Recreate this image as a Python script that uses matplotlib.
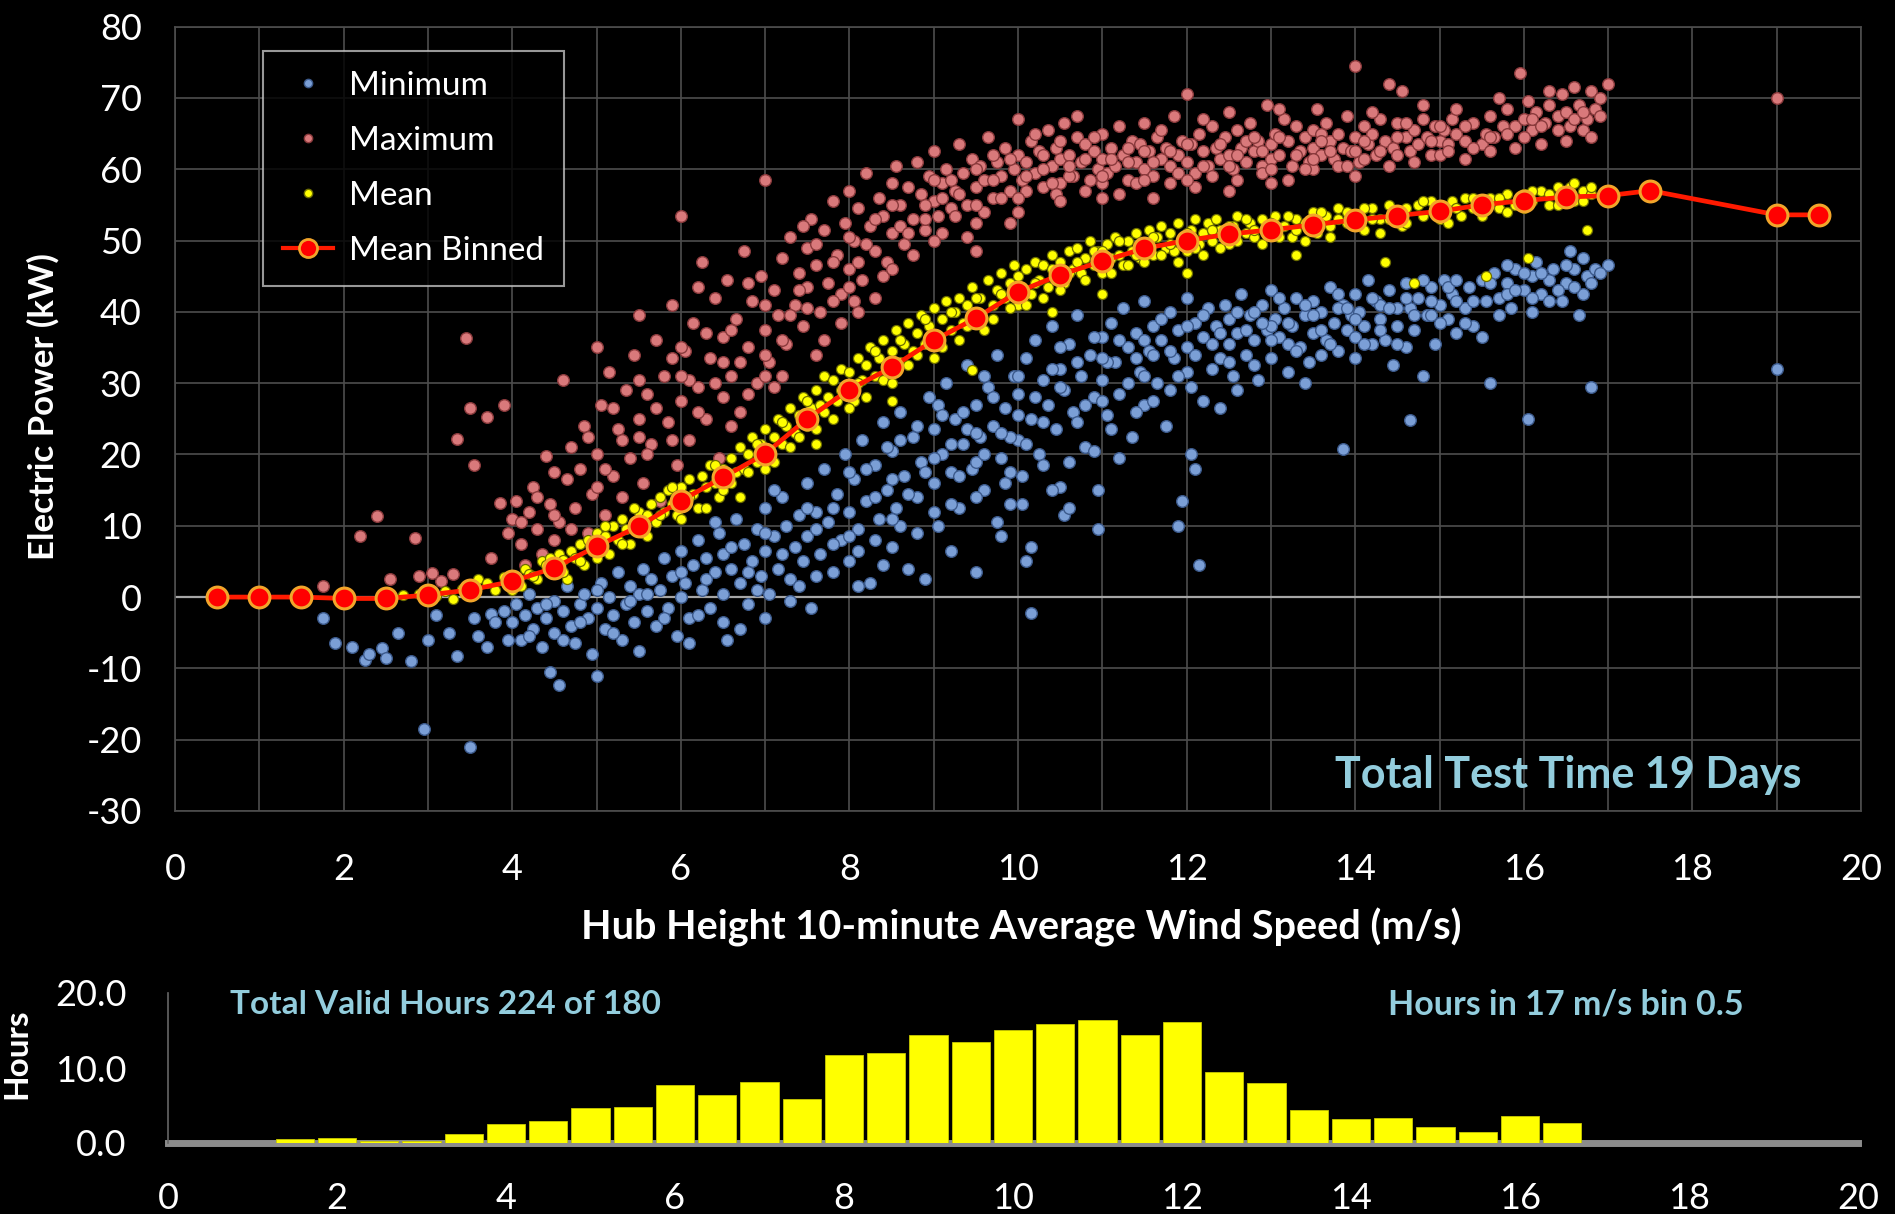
import numpy as np
import matplotlib
matplotlib.use("Agg")
import matplotlib.pyplot as plt
from matplotlib.lines import Line2D

plt.rcParams['font.family'] = ['Lato', 'DejaVu Sans']

# ---------------- data ----------------
bin_x = [0.5, 1.0, 1.5, 2.0, 2.5, 3.0, 3.5, 4.0, 4.5, 5.0, 5.5, 6.0, 6.5, 7.0, 7.5, 8.0, 8.5,
         9.0, 9.5, 10.0, 10.5, 11.0, 11.5, 12.0, 12.5, 13.0, 13.5, 14.0, 14.5, 15.0, 15.5,
         16.0, 16.5, 17.0, 17.5, 19.0, 19.5]
bin_y = [0.0, 0.0, 0.0, -0.2, -0.2, 0.3, 1.0, 2.2, 4.1, 7.1, 9.9, 13.5, 16.8, 20.1, 25.0, 29.1,
         32.2, 36.0, 39.1, 42.8, 45.2, 47.1, 48.9, 50.0, 50.9, 51.5, 52.2, 52.9, 53.5, 54.1,
         55.0, 55.6, 56.1, 56.3, 57.0, 53.6, 53.6]

hist_x = [1.5, 2.0, 2.5, 3.0, 3.5, 4.0, 4.5, 5.0, 5.5, 6.0, 6.5, 7.0, 7.5, 8.0, 8.5, 9.0,
          9.5, 10.0, 10.5, 11.0, 11.5, 12.0, 12.5, 13.0, 13.5, 14.0, 14.5, 15.0, 15.5, 16.0, 16.5]
hist_h = [0.5, 0.7, 0.3, 0.3, 1.2, 2.5, 3.0, 4.7, 4.8, 7.7, 6.4, 8.2, 5.9, 11.8, 12.0, 14.4,
          13.5, 15.1, 15.9, 16.4, 14.4, 16.2, 9.5, 8.0, 4.4, 3.2, 3.4, 2.2, 1.5, 3.6, 2.7]

max_pts = [
    (1.75, 1.5), (2.2, 8.5), (2.4, 11.3), (2.55, 2.5), (2.85, 8.3), (2.9, 3.0), (3.05, 3.4),
    (3.15, 2.2), (3.3, 3.2), (3.35, 22.2), (3.45, 36.4), (3.5, 26.5), (3.55, 18.5), (3.7, 25.3),
    (3.75, 5.5), (3.85, 13.2), (3.9, 27.0), (3.95, 9.0), (4.0, 11.0), (4.05, 13.5), (4.1, 7.5),
    (4.15, 4.5), (4.2, 12.0), (4.25, 15.5), (4.3, 9.5), (4.35, 6.0), (4.4, 19.8), (4.45, 13.0),
    (4.5, 8.0), (4.55, 10.5), (4.6, 30.5), (4.65, 16.5), (4.7, 21.0), (4.75, 12.5), (4.8, 18.0),
    (4.85, 24.0), (4.9, 9.0), (4.95, 14.5), (5.0, 35.0), (5.0, 20.0), (5.05, 27.0), (5.1, 11.5),
    (5.15, 31.5), (5.2, 17.0), (5.25, 23.5), (5.3, 14.0), (5.35, 29.0), (5.4, 19.5), (5.45, 34.0),
    (5.5, 25.0), (5.5, 39.5), (5.55, 16.0), (5.6, 28.5), (5.65, 21.5), (5.7, 36.0), (5.75, 13.5),
    (5.8, 31.0), (5.85, 24.5), (5.9, 41.0), (5.95, 18.5), (6.0, 27.5), (6.0, 53.5), (6.05, 34.5),
    (6.1, 22.0), (6.15, 38.5), (6.2, 29.5), (6.25, 47.0), (6.3, 25.0), (6.35, 33.5), (6.4, 42.0),
    (6.45, 19.5), (6.5, 36.5), (6.5, 28.0), (6.55, 44.5), (6.6, 31.0), (6.65, 39.0), (6.7, 26.0),
    (6.75, 48.5), (6.8, 35.0), (6.85, 41.5), (6.9, 30.0), (6.95, 45.0), (7.0, 37.5), (7.0, 58.5),
    (7.05, 33.0), (7.1, 43.0), (7.15, 39.5), (7.2, 47.5), (7.25, 35.5), (7.3, 50.5), (7.35, 41.0),
    (7.4, 45.5), (7.45, 38.0), (7.5, 49.0), (7.5, 43.5), (7.55, 53.0), (7.6, 46.5), (7.65, 40.0),
    (7.7, 51.5), (7.75, 44.0), (7.8, 55.5), (7.85, 48.0), (7.9, 42.5), (7.95, 52.5), (8.0, 46.0),
    (8.0, 57.0), (8.05, 50.0), (8.1, 54.5), (8.15, 44.5), (8.2, 59.5), (8.25, 52.0), (8.3, 48.5),
    (8.35, 56.0), (8.4, 53.5), (8.45, 47.0), (8.5, 58.0), (8.5, 51.0), (8.55, 60.5), (8.6, 55.0),
    (8.65, 49.5), (8.7, 57.5), (8.75, 53.0), (8.8, 61.0), (8.85, 56.5), (8.9, 51.5), (8.95, 59.0),
    (9.0, 55.5), (9.0, 62.5), (9.05, 53.5), (9.1, 58.0), (9.15, 60.0), (9.2, 54.5), (9.25, 57.0),
    (9.3, 63.5), (9.35, 59.5), (9.4, 55.0), (9.45, 61.5), (9.5, 57.5), (9.5, 52.5), (9.55, 60.5),
    (9.6, 58.5), (9.65, 64.5), (9.7, 56.0), (9.75, 61.0), (9.8, 59.0), (9.85, 63.0), (9.9, 57.0),
    (9.95, 60.0), (10.0, 62.0), (10.0, 67.0), (10.05, 58.5), (10.1, 61.0), (10.15, 64.0),
    (10.2, 59.5), (10.25, 62.5), (10.3, 57.5), (10.35, 65.5), (10.4, 60.5), (10.45, 63.0),
    (10.5, 61.5), (10.5, 58.0), (10.55, 66.5), (10.6, 62.0), (10.65, 59.0), (10.7, 64.5),
    (10.75, 61.0), (10.8, 63.5), (10.85, 58.5), (10.9, 62.5), (10.95, 60.0), (11.0, 65.0),
    (11.0, 61.5), (11.05, 59.5), (11.1, 63.0), (11.15, 60.5), (11.2, 66.0), (11.25, 62.0),
    (11.3, 58.5), (11.35, 64.0), (11.4, 61.0), (11.45, 63.5), (11.5, 60.0), (11.5, 66.5),
    (11.55, 62.5), (11.6, 59.0), (11.65, 64.5), (11.7, 61.5), (11.75, 63.0), (11.8, 60.5),
    (11.85, 67.5), (11.9, 62.0), (11.95, 64.0), (12.0, 61.0), (12.0, 70.5), (12.05, 63.5),
    (12.1, 59.5), (12.15, 65.0), (12.2, 62.5), (12.25, 60.5), (12.3, 66.0), (12.35, 63.0),
    (12.4, 61.5), (12.45, 64.5), (12.5, 62.0), (12.5, 68.0), (12.55, 60.0), (12.6, 65.5),
    (12.65, 63.0), (12.7, 61.0), (12.75, 66.5), (12.8, 62.5), (12.85, 64.0), (12.9, 60.5),
    (12.95, 69.0), (13.0, 63.5), (13.0, 61.5), (13.05, 65.0), (13.1, 62.0), (13.15, 67.0),
    (13.2, 64.0), (13.25, 60.5), (13.3, 66.0), (13.35, 62.5), (13.4, 64.5), (13.45, 61.0),
    (13.5, 65.5), (13.5, 63.0), (13.55, 68.5), (13.6, 62.0), (13.65, 66.5), (13.7, 64.0),
    (13.75, 61.5), (13.8, 65.0), (13.85, 63.0), (13.9, 67.5), (13.95, 62.5), (14.0, 74.5),
    (14.0, 64.5), (14.05, 61.0), (14.1, 66.0), (14.15, 63.5), (14.2, 65.0), (14.25, 62.0),
    (14.3, 67.0), (14.35, 64.0), (14.4, 72.0), (14.45, 63.0), (14.5, 66.5), (14.55, 71.0),
    (14.6, 64.5), (14.65, 62.5), (14.7, 65.5), (14.75, 63.5), (14.8, 67.0), (14.85, 64.5),
    (14.9, 62.0), (14.95, 66.0), (15.0, 64.0), (15.05, 65.5), (15.1, 63.5), (15.15, 67.0),
    (15.2, 65.0), (15.3, 64.0), (15.4, 66.5), (15.5, 63.5), (15.55, 65.0), (15.6, 67.5),
    (15.65, 64.5), (15.75, 66.0), (15.8, 68.5), (15.9, 66.0), (15.95, 73.5), (16.0, 67.0),
    (16.05, 69.5), (16.1, 65.5), (16.15, 68.0), (16.25, 66.5), (16.3, 69.0), (16.4, 67.5),
    (16.45, 70.5), (16.5, 68.0), (16.55, 66.0), (16.6, 71.5), (16.65, 69.0), (16.7, 65.5),
    (16.75, 67.0), (16.8, 71.0), (16.85, 68.5), (17.0, 72.0), (19.0, 70.0),
    (6.1, 30.5), (6.3, 37.0), (6.6, 24.0), (6.8, 44.0), (7.1, 29.5), (7.3, 39.5), (7.6, 34.0),
    (7.8, 47.0), (8.05, 41.5), (8.2, 49.5), (8.4, 45.0), (8.6, 52.0), (8.75, 48.0), (8.9, 55.0),
    (9.1, 51.0), (9.25, 53.5), (9.4, 50.5), (9.6, 54.0), (9.8, 56.0), (9.9, 52.5), (10.1, 57.0),
    (10.3, 60.0), (10.45, 56.5), (10.6, 59.0), (10.8, 57.0), (11.0, 58.0), (11.2, 56.5),
    (11.4, 58.0), (11.6, 56.0), (11.8, 58.0), (12.1, 57.5), (12.3, 59.0), (12.6, 58.5),
    (12.9, 59.5), (13.2, 58.5), (13.5, 60.0), (13.8, 60.5), (14.1, 61.5), (14.4, 60.5),
    (14.7, 61.0), (15.0, 62.0), (15.3, 61.5), (15.6, 62.5), (15.9, 63.0), (16.2, 63.5),
    (16.5, 64.0), (16.8, 64.5), (7.9, 38.5), (8.1, 40.0), (8.3, 42.0), (5.2, 26.5), (5.6, 20.0),
    (5.9, 33.5), (6.2, 43.5), (6.7, 33.0), (7.2, 31.0), (7.45, 52.0), (7.7, 36.0), (9.2, 58.5),
    (9.7, 62.0), (10.2, 65.0), (10.7, 67.5), (11.3, 61.0), (11.7, 65.5), (12.2, 67.0),
    (12.7, 64.0), (13.1, 68.5), (13.6, 65.0), (14.2, 68.0), (14.8, 69.0), (15.2, 68.5),
    (15.7, 70.0), (16.3, 71.0), (16.9, 70.0),
    (4.1, 10.5), (4.3, 14.0), (4.5, 17.5), (4.7, 9.5), (4.9, 22.5), (5.1, 18.0), (5.3, 22.0),
    (5.5, 30.5), (5.7, 26.5), (5.9, 22.0), (6.0, 35.0), (6.2, 26.0), (6.4, 30.0), (6.6, 37.5),
    (6.8, 28.5), (7.0, 41.0), (7.0, 34.0), (7.2, 36.0), (7.4, 43.0), (7.6, 49.5), (7.8, 41.5),
    (8.0, 50.5), (8.1, 47.0), (8.3, 53.0), (8.5, 55.0), (8.5, 46.0), (8.7, 51.0), (8.9, 53.0),
    (9.0, 58.5), (9.1, 56.0), (9.3, 56.5), (9.5, 60.0), (9.5, 55.0), (9.7, 58.5), (9.9, 61.5),
    (10.0, 56.0), (10.1, 59.0), (10.3, 62.0), (10.4, 58.0), (10.5, 64.0), (10.6, 60.5),
    (10.8, 61.5), (10.9, 64.5), (11.0, 59.0), (11.1, 61.5), (11.3, 63.0), (11.5, 58.5),
    (11.5, 62.5), (11.6, 61.0), (11.8, 62.5), (11.9, 59.5), (12.0, 63.5), (12.0, 58.5),
    (12.2, 60.5), (12.4, 63.5), (12.5, 60.5), (12.6, 62.0), (12.8, 64.5), (12.9, 62.5),
    (13.0, 60.0), (13.1, 64.5), (13.3, 62.0), (13.4, 60.0), (13.5, 61.5), (13.6, 64.0),
    (13.7, 62.5), (13.9, 60.5), (14.0, 62.5), (14.1, 64.0), (14.3, 62.5), (14.5, 62.0),
    (14.5, 64.5), (14.6, 66.5), (14.9, 64.0), (15.0, 66.0), (15.1, 62.5), (15.3, 66.0),
    (15.4, 63.0), (15.6, 64.5), (15.8, 65.0), (16.0, 64.5), (16.1, 67.0), (16.2, 66.0),
    (16.4, 65.5), (16.6, 67.0), (16.7, 68.0), (16.9, 67.5), (8.0, 43.5), (7.5, 40.5),
    (7.0, 31.0), (6.5, 33.0), (6.0, 31.0), (5.5, 22.5), (5.0, 15.5), (4.5, 11.5), (9.0, 50.0),
    (9.5, 48.5), (10.0, 54.0), (10.5, 55.5), (11.0, 56.0), (12.5, 57.0), (13.0, 58.0),
    (14.0, 59.0),
]

min_pts = [
    (1.75, -3.0), (1.9, -6.5), (2.1, -7.0), (2.25, -8.8), (2.3, -8.0), (2.45, -7.2), (2.5, -8.5),
    (2.65, -5.0), (2.8, -9.0), (2.95, -18.5), (3.0, -6.0), (3.1, -2.5), (3.25, -5.0), (3.35, -8.2),
    (3.5, -21.0), (3.55, -3.0), (3.6, -5.5), (3.7, -7.0), (3.75, -2.4), (3.8, -3.5), (3.9, -2.0),
    (3.95, -6.0), (4.0, -3.5), (4.05, -1.0), (4.1, -6.0), (4.15, -2.5), (4.2, 0.5), (4.25, -4.5),
    (4.3, -1.5), (4.35, -7.0), (4.4, -3.0), (4.45, -10.5), (4.5, -0.5), (4.5, -5.0), (4.55, -12.3),
    (4.6, -2.0), (4.65, 1.5), (4.7, -4.0), (4.75, -6.5), (4.8, -1.0), (4.85, 0.5), (4.9, -3.0),
    (4.95, -8.0), (5.0, -11.0), (5.0, -1.5), (5.05, 2.0), (5.1, -4.5), (5.15, 0.0), (5.2, -2.5),
    (5.25, 3.5), (5.3, -6.0), (5.35, -1.0), (5.4, 1.5), (5.45, -3.5), (5.5, -7.5), (5.5, 0.5),
    (5.55, 4.0), (5.6, -2.0), (5.65, 2.5), (5.7, -4.0), (5.75, 1.0), (5.8, 5.5), (5.85, -1.5),
    (5.9, 3.0), (5.95, -5.5), (6.0, 0.0), (6.0, 6.5), (6.05, 2.0), (6.1, -3.0), (6.15, 4.5),
    (6.2, 8.0), (6.25, 1.0), (6.3, 5.5), (6.35, -1.5), (6.4, 3.5), (6.45, 9.0), (6.5, 0.5),
    (6.5, 6.0), (6.55, -6.0), (6.6, 4.0), (6.65, 11.0), (6.7, 2.0), (6.75, 7.5), (6.8, -1.0),
    (6.85, 5.0), (6.9, 9.5), (6.95, 3.0), (7.0, 12.5), (7.0, 6.5), (7.05, 0.5), (7.1, 8.5),
    (7.15, 4.0), (7.2, 14.0), (7.25, 10.0), (7.3, 2.5), (7.35, 7.0), (7.4, 11.5), (7.45, 5.0),
    (7.5, 16.0), (7.5, 8.5), (7.55, -1.5), (7.6, 12.0), (7.65, 6.0), (7.7, 18.0), (7.75, 10.5),
    (7.8, 3.5), (7.85, 14.5), (7.9, 8.0), (7.95, 20.0), (8.0, 12.0), (8.0, 5.0), (8.05, 16.5),
    (8.1, 9.5), (8.15, 22.0), (8.2, 13.5), (8.25, 2.0), (8.3, 18.5), (8.35, 11.0), (8.4, 24.5),
    (8.45, 15.0), (8.5, 7.0), (8.5, 20.5), (8.55, 12.5), (8.6, 26.0), (8.65, 17.0), (8.7, 4.0),
    (8.75, 22.5), (8.8, 14.0), (8.85, 19.0), (8.9, 2.5), (8.95, 28.0), (9.0, 16.0), (9.0, 23.5),
    (9.05, 10.0), (9.1, 20.0), (9.15, 30.0), (9.2, 17.5), (9.25, 25.0), (9.3, 12.5), (9.35, 21.5),
    (9.4, 32.5), (9.45, 18.0), (9.5, 27.0), (9.5, 3.5), (9.55, 22.5), (9.6, 15.0), (9.65, 29.5),
    (9.7, 24.0), (9.75, 34.0), (9.8, 19.5), (9.85, 26.5), (9.9, 13.0), (9.95, 31.0), (10.0, 22.0),
    (10.15, -2.2), (10.0, 28.5), (10.05, 17.0), (10.1, 33.5), (10.15, 25.0), (10.2, 36.0),
    (10.25, 20.0), (10.3, 30.5), (10.35, 27.0), (10.4, 38.0), (10.45, 23.5), (10.5, 32.0),
    (10.5, 15.5), (10.55, 29.0), (10.6, 35.5), (10.65, 26.0), (10.7, 39.5), (10.75, 31.0),
    (10.8, 21.0), (10.85, 34.0), (10.9, 28.0), (10.95, 9.5), (11.0, 36.5), (11.0, 30.5),
    (11.05, 25.5), (11.1, 38.5), (11.15, 33.0), (11.2, 28.5), (11.25, 40.5), (11.3, 35.0),
    (11.35, 22.5), (11.4, 37.0), (11.45, 31.5), (11.5, 41.5), (11.5, 27.0), (11.55, 34.5),
    (11.6, 38.0), (11.65, 30.0), (11.7, 36.0), (11.75, 24.0), (11.8, 40.0), (11.85, 33.5),
    (11.9, 37.5), (11.95, 13.5), (12.0, 35.0), (12.0, 42.0), (12.05, 29.5), (12.1, 38.5),
    (12.15, 4.5), (12.2, 36.5), (12.25, 40.5), (12.3, 32.0), (12.35, 38.0), (12.4, 26.5),
    (12.45, 41.0), (12.5, 35.5), (12.5, 39.0), (12.55, 31.0), (12.6, 37.0), (12.65, 42.5),
    (12.7, 34.0), (12.75, 39.5), (12.8, 36.0), (12.85, 30.5), (12.9, 41.0), (12.95, 37.5),
    (13.0, 43.0), (13.0, 33.5), (13.05, 39.0), (13.1, 36.5), (13.15, 40.5), (13.2, 31.5),
    (13.25, 38.0), (13.3, 42.0), (13.35, 35.0), (13.4, 39.5), (13.45, 33.0), (13.5, 41.5),
    (13.5, 37.0), (13.85, 20.7), (13.6, 40.0), (13.65, 36.0), (13.7, 43.5), (13.75, 38.5),
    (13.8, 34.5), (13.85, 41.0), (13.9, 37.5), (13.95, 39.5), (14.0, 36.5), (14.0, 42.5),
    (14.05, 40.0), (14.1, 38.0), (14.15, 44.5), (14.2, 35.5), (14.25, 41.5), (14.3, 39.0),
    (14.35, 36.0), (14.4, 43.0), (14.45, 32.5), (14.5, 40.5), (14.5, 38.0), (14.65, 24.8),
    (14.6, 44.0), (14.65, 40.5), (14.7, 37.5), (14.75, 42.0), (14.8, 31.0), (14.85, 39.5),
    (14.9, 43.5), (14.95, 35.5), (15.0, 41.0), (15.05, 44.5), (15.1, 39.0), (15.15, 42.5),
    (15.2, 37.0), (15.3, 40.5), (15.35, 43.5), (15.4, 38.0), (15.5, 44.5), (15.55, 41.5),
    (15.6, 30.0), (15.65, 45.5), (15.7, 42.0), (15.8, 44.0), (15.85, 40.5), (15.9, 46.0),
    (16.0, 43.0), (16.05, 25.0), (16.1, 45.0), (16.15, 47.0), (16.2, 42.5), (16.3, 44.5),
    (16.35, 46.0), (16.45, 41.5), (16.5, 44.0), (16.55, 48.5), (16.6, 46.0), (16.65, 39.5),
    (16.7, 47.5), (16.75, 45.0), (16.8, 29.5), (16.85, 46.0), (17.0, 46.5), (19.0, 32.0),
    (6.2, -2.5), (6.4, 10.5), (6.7, -4.5), (6.9, 1.0), (7.1, 15.0), (7.3, -0.5), (7.6, 3.0),
    (7.8, 7.5), (8.1, 1.5), (8.2, 18.0), (8.3, 8.0), (8.45, 21.0), (8.6, 10.0), (8.8, 24.0),
    (8.9, 17.5), (9.05, 27.0), (9.2, 13.0), (9.35, 26.0), (9.5, 19.0), (9.6, 31.0), (9.75, 10.5),
    (9.9, 22.5), (10.05, 13.0), (10.15, 7.0), (10.3, 18.5), (10.4, 32.0), (10.55, 11.5),
    (10.7, 24.5), (10.9, 20.5), (11.05, 33.0), (11.2, 19.5), (11.4, 26.0), (11.6, 34.0),
    (11.8, 29.0), (12.0, 31.5), (12.2, 27.5), (12.4, 33.5), (12.6, 29.0), (12.8, 40.0),
    (13.0, 38.0), (13.2, 35.5), (13.4, 30.0), (13.6, 34.0), (13.8, 40.5), (14.0, 33.5),
    (14.3, 41.0), (14.6, 35.0), (14.9, 39.5), (15.2, 41.5), (15.5, 36.5), (15.8, 42.5),
    (16.1, 40.0), (16.4, 43.0), (16.7, 42.5), (12.05, 20.0), (12.1, 18.0), (11.9, 10.0),
    (10.95, 15.0), (10.1, 5.0), (9.85, 16.0),
    (4.2, -5.5), (4.4, -1.0), (4.6, -6.0), (4.8, -3.5), (5.0, 1.0), (5.2, -5.0), (5.4, -0.5),
    (5.6, 0.5), (5.8, -3.0), (6.0, 3.5), (6.1, -6.5), (6.3, 2.5), (6.5, -3.5), (6.6, 7.0),
    (6.8, 3.5), (7.0, 9.0), (7.0, -3.0), (7.2, 6.0), (7.4, 1.5), (7.6, 9.5), (7.8, 12.5),
    (8.0, 17.5), (8.1, 6.5), (8.3, 14.0), (8.5, 11.0), (8.5, 16.5), (8.6, 22.0), (8.7, 14.5),
    (8.8, 9.0), (9.0, 12.0), (9.0, 19.5), (9.1, 25.5), (9.2, 21.5), (9.3, 17.0), (9.4, 23.5),
    (9.5, 14.0), (9.5, 23.0), (9.6, 20.0), (9.7, 28.0), (9.8, 23.0), (9.9, 17.5), (10.0, 25.5),
    (10.0, 31.0), (10.1, 21.5), (10.2, 28.0), (10.3, 24.5), (10.4, 15.0), (10.5, 29.5),
    (10.5, 35.0), (10.6, 19.0), (10.7, 33.0), (10.8, 27.0), (10.9, 36.5), (11.0, 27.5),
    (11.0, 33.5), (11.1, 23.5), (11.2, 36.0), (11.3, 30.0), (11.4, 33.5), (11.5, 36.0),
    (11.5, 31.0), (11.6, 27.5), (11.7, 39.0), (11.8, 34.5), (11.9, 31.0), (12.0, 38.0),
    (12.1, 34.0), (12.2, 39.5), (12.3, 35.5), (12.4, 37.0), (12.5, 33.0), (12.6, 40.0),
    (12.7, 37.5), (12.8, 32.5), (12.9, 38.5), (13.0, 36.0), (13.1, 42.0), (13.2, 38.5),
    (13.3, 34.5), (13.4, 41.0), (13.5, 39.5), (13.6, 37.5), (13.7, 35.5), (13.8, 42.5),
    (13.9, 40.5), (14.0, 39.0), (14.1, 35.5), (14.2, 42.0), (14.3, 37.5), (14.4, 40.5),
    (14.5, 35.5), (14.6, 42.0), (14.7, 39.5), (14.8, 44.5), (14.9, 41.5), (15.0, 38.5),
    (15.1, 43.5), (15.2, 44.5), (15.3, 38.5), (15.4, 41.5), (15.6, 44.0), (15.7, 39.5),
    (15.8, 46.5), (15.9, 43.0), (16.0, 45.5), (16.1, 42.0), (16.2, 45.5), (16.3, 41.5),
    (16.5, 46.5), (16.6, 43.5), (16.8, 44.0), (16.9, 45.5), (7.5, 12.5), (8.0, 8.5), (8.4, 4.5),
    (9.2, 6.5), (9.8, 8.5), (10.6, 12.5),
]

mean_pts = [
    (2.7, 0.3), (2.9, 0.5), (3.0, 0.6), (3.1, 0.2), (3.2, 0.8), (3.3, -0.3), (3.4, 1.2),
    (3.5, 1.5), (3.6, 2.5), (3.7, 2.0), (3.8, 1.0), (3.9, 2.8), (4.0, 3.0), (4.1, 1.5),
    (4.15, 4.0), (4.2, 3.2), (4.3, 2.5), (4.35, 5.0), (4.4, 4.5), (4.5, 3.5), (4.55, 6.0),
    (4.6, 5.2), (4.65, 2.5), (4.7, 6.5), (4.75, 5.5), (4.8, 7.5), (4.85, 4.5), (4.9, 8.0),
    (4.95, 6.5), (5.0, 9.0), (5.05, 7.0), (5.1, 8.5), (5.15, 6.0), (5.2, 10.0), (5.25, 8.0),
    (5.3, 11.0), (5.35, 9.5), (5.4, 7.5), (5.45, 10.5), (5.5, 12.0), (5.55, 9.0), (5.6, 11.5),
    (5.65, 13.0), (5.7, 10.5), (5.75, 14.0), (5.8, 12.0), (5.85, 15.0), (5.9, 13.0),
    (5.95, 11.5), (6.0, 15.5), (6.05, 13.5), (6.1, 16.5), (6.15, 14.5), (6.2, 12.5),
    (6.25, 17.0), (6.3, 15.5), (6.35, 18.5), (6.4, 16.0), (6.45, 14.0), (6.5, 18.0),
    (6.55, 16.5), (6.6, 19.5), (6.65, 17.5), (6.7, 21.0), (6.75, 18.0), (6.8, 20.0),
    (6.85, 22.5), (6.9, 19.0), (6.95, 21.5), (7.0, 23.5), (7.05, 20.0), (7.1, 22.5),
    (7.15, 25.0), (7.2, 21.5), (7.25, 24.0), (7.3, 26.5), (7.35, 23.0), (7.4, 25.5),
    (7.45, 28.0), (7.5, 24.0), (7.55, 26.5), (7.6, 29.0), (7.65, 27.0), (7.7, 31.0),
    (7.75, 28.0), (7.8, 30.5), (7.85, 27.5), (7.9, 32.0), (7.95, 29.5), (8.0, 31.5),
    (8.05, 27.5), (8.1, 33.5), (8.15, 30.5), (8.2, 32.5), (8.25, 35.0), (8.3, 31.0),
    (8.35, 33.5), (8.4, 36.0), (8.45, 32.0), (8.5, 34.5), (8.55, 37.5), (8.6, 33.0),
    (8.65, 35.5), (8.7, 38.5), (8.75, 34.5), (8.8, 37.0), (8.85, 39.5), (8.9, 35.5),
    (8.95, 38.0), (9.0, 40.5), (9.05, 36.5), (9.1, 39.0), (9.15, 41.5), (9.2, 37.5),
    (9.25, 40.0), (9.3, 42.0), (9.35, 38.5), (9.4, 41.0), (9.45, 43.5), (9.5, 39.5),
    (9.55, 42.0), (9.45, 31.8), (9.65, 44.5), (9.7, 41.0), (9.75, 43.0), (9.8, 45.5),
    (9.85, 42.0), (9.9, 44.0), (9.95, 46.5), (10.0, 41.0), (10.05, 43.5), (10.1, 46.0),
    (10.15, 42.5), (10.2, 47.0), (10.25, 44.5), (10.3, 46.5), (10.35, 43.5), (10.4, 48.0),
    (10.45, 45.5), (10.5, 47.0), (10.55, 44.0), (10.6, 48.5), (10.65, 46.0), (10.7, 49.0),
    (10.75, 45.5), (10.8, 47.5), (10.85, 50.0), (10.9, 46.5), (10.95, 48.5), (11.0, 45.5),
    (11.05, 49.5), (11.1, 47.5), (11.15, 50.5), (11.2, 48.0), (11.25, 46.5), (11.3, 50.0),
    (11.35, 48.5), (11.4, 51.0), (11.45, 47.5), (11.5, 49.5), (11.55, 51.5), (11.6, 48.0),
    (11.65, 50.5), (11.7, 52.0), (11.75, 49.0), (11.8, 51.0), (11.85, 48.5), (11.9, 52.5),
    (11.95, 50.0), (12.0, 48.5), (12.05, 51.5), (12.1, 53.0), (12.15, 49.5), (12.2, 51.0),
    (12.25, 52.5), (12.3, 50.0), (12.35, 53.0), (12.4, 51.5), (12.5, 49.5), (12.55, 52.0),
    (12.6, 53.5), (12.7, 51.0), (12.75, 52.5), (12.8, 50.5), (12.9, 53.0), (13.0, 51.5),
    (13.05, 53.5), (13.15, 52.0), (13.25, 50.5), (13.3, 53.0), (13.4, 52.5), (13.5, 54.0),
    (13.55, 51.0), (13.65, 53.5), (13.7, 52.0), (13.8, 54.5), (13.9, 52.5), (14.0, 53.5),
    (14.1, 51.5), (14.2, 54.5), (14.3, 53.0), (14.35, 47.0), (14.4, 55.0), (14.5, 53.5),
    (14.55, 52.0), (14.6, 54.5), (14.7, 44.0), (14.75, 55.0), (14.8, 53.5), (14.9, 55.5),
    (15.0, 53.0), (15.05, 54.5), (15.15, 55.5), (15.25, 53.5), (15.3, 56.0), (15.4, 54.5),
    (15.5, 55.5), (15.55, 45.0), (15.6, 56.0), (15.7, 54.5), (15.8, 56.5), (15.9, 55.0),
    (16.0, 56.5), (16.05, 47.5), (16.1, 55.5), (16.2, 57.0), (16.3, 55.0), (16.4, 57.5),
    (16.45, 56.0), (16.55, 57.5), (16.6, 55.5), (16.7, 57.0), (16.75, 51.5), (16.8, 56.5),
    (4.0, 1.0), (4.25, 3.0), (4.45, 5.5), (4.6, 3.5), (4.8, 5.0), (5.0, 5.5), (5.1, 10.0),
    (5.3, 7.5), (5.45, 12.5), (5.6, 8.5), (5.75, 11.5), (5.9, 15.5), (6.0, 11.0), (6.1, 14.0),
    (6.3, 12.5), (6.4, 18.5), (6.5, 15.0), (6.6, 16.0), (6.7, 14.0), (6.8, 17.5), (6.9, 21.5),
    (7.0, 18.0), (7.1, 19.0), (7.2, 24.5), (7.3, 21.0), (7.4, 22.5), (7.5, 27.5), (7.6, 23.5),
    (7.7, 26.0), (7.8, 25.0), (7.9, 29.0), (8.0, 26.5), (8.1, 30.0), (8.2, 28.0), (8.3, 34.5),
    (8.4, 30.5), (8.5, 30.0), (8.6, 36.0), (8.7, 32.5), (8.8, 34.0), (8.9, 39.0), (9.0, 33.5),
    (9.1, 35.0), (9.2, 40.0), (9.3, 36.0), (9.4, 38.0), (9.5, 42.0), (9.6, 37.5), (9.7, 39.0),
    (9.8, 42.5), (9.9, 40.5), (10.0, 45.0), (10.1, 41.0), (10.2, 44.0), (10.3, 42.0),
    (10.4, 46.0), (10.5, 43.0), (10.6, 45.5), (10.7, 47.0), (10.8, 44.5), (10.9, 48.5),
    (11.0, 48.5), (11.1, 45.5), (11.2, 50.0), (11.3, 46.5), (11.4, 48.0), (11.5, 47.0),
    (11.6, 50.5), (11.7, 48.0), (11.8, 49.5), (11.9, 47.0), (12.0, 51.0), (12.1, 49.0),
    (12.2, 48.0), (12.3, 51.5), (12.4, 49.0), (12.5, 52.0), (12.6, 50.0), (12.7, 53.0),
    (12.8, 51.5), (12.9, 49.5), (13.0, 52.5), (13.1, 50.5), (13.2, 53.5), (13.3, 51.5),
    (13.4, 50.0), (13.5, 52.5), (13.6, 54.0), (13.7, 50.5), (13.8, 53.0), (13.9, 54.0),
    (14.0, 52.0), (14.1, 54.5), (14.2, 53.0), (14.3, 51.0), (14.4, 53.0), (14.6, 52.5),
    (14.8, 55.5), (15.0, 55.0), (15.1, 52.5), (15.2, 54.5), (15.4, 56.0), (15.5, 53.5),
    (15.7, 56.0), (15.8, 54.0), (16.0, 54.5), (16.1, 57.0), (16.3, 56.5), (16.4, 55.0),
    (16.6, 58.0), (16.7, 55.5), (16.8, 57.5), (13.3, 48.0), (12.0, 45.5), (11.0, 42.5),
    (10.4, 40.0), (8.5, 27.5), (7.6, 21.5),
]

x_ticks = [0, 2, 4, 6, 8, 10, 12, 14, 16, 18, 20]
y_ticks = [-30, -20, -10, 0, 10, 20, 30, 40, 50, 60, 70, 80]
hist_yticks = [0.0, 10.0, 20.0]

# ---------------- figure ----------------
W, H = 1895, 1214
fig = plt.figure(figsize=(W / 100, H / 100), dpi=100, facecolor='black')

def ax_rect(l, r, t, b):
    return [l / W, 1 - b / H, (r - l) / W, (b - t) / H]

ax = fig.add_axes(ax_rect(175, 1861, 26.6, 811))
ax.set_facecolor('black')

grid_c = '#4d4d4d'
ax.set_xlim(0, 20)
ax.set_ylim(-30, 80)
ax.set_xticks(np.arange(0, 21, 1))
ax.set_yticks(y_ticks)
ax.grid(True, color=grid_c, lw=1.2, zorder=0)
ax.set_axisbelow(True)
ax.axhline(0, color='#a6a6a6', lw=1.6, zorder=1)
for s in ax.spines.values():
    s.set_color(grid_c)
    s.set_linewidth(1.2)
ax.tick_params(length=0, labelsize=26, colors='white')
ax.tick_params(axis='y', pad=24)
ax.tick_params(axis='x', pad=30)
ax.set_xticklabels([str(t) if t % 2 == 0 else '' for t in range(0, 21)])
ax.set_yticklabels([str(t) for t in y_ticks])

mx, my = np.array(max_pts).T
nx, ny = np.array(min_pts).T
ex, ey = np.array(mean_pts).T

ax.scatter(nx, ny, s=70, c='#7b9fd6', edgecolors='#3c5a8c', linewidths=1.0, zorder=3)
ax.scatter(mx, my, s=70, c='#d9797b', edgecolors='#8a3a3c', linewidths=1.0, zorder=3)
ax.scatter(ex, ey, s=52, c='#ffff00', edgecolors='#6e6e00', linewidths=0.9, zorder=4)
ax.plot(bin_x, bin_y, color='#ff1a00', lw=3.4, marker='o', markersize=15,
        markerfacecolor='#ff0000', markeredgecolor='#f2a52a', markeredgewidth=2.2, zorder=5)

handles = [
    Line2D([], [], ls='none', marker='o', markersize=6, markerfacecolor='#7b9fd6',
           markeredgecolor='#3c5a8c'),
    Line2D([], [], ls='none', marker='o', markersize=6, markerfacecolor='#d9797b',
           markeredgecolor='#8a3a3c'),
    Line2D([], [], ls='none', marker='o', markersize=6, markerfacecolor='#ffff00',
           markeredgecolor='#6e6e00'),
    Line2D([], [], color='#ff1a00', lw=3, marker='o', markersize=13,
           markerfacecolor='#ff0000', markeredgecolor='#f2a52a', markeredgewidth=2),
]
leg = ax.legend(handles, ['Minimum', 'Maximum', 'Mean', 'Mean Binned'],
                loc='upper left', bbox_to_anchor=(0.052, 0.969), borderaxespad=0,
                fontsize=24, labelcolor='white', frameon=True, fancybox=False,
                facecolor='black', edgecolor='#bfbfbf', labelspacing=0.75,
                handlelength=1.5, handletextpad=0.5, borderpad=0.6)
leg.get_frame().set_linewidth(1.5)
leg.set_zorder(7)

ax.text(19.29, -25.0, 'Total Test Time 19 Days', color='#93cddd', fontsize=31,
        fontweight='bold', ha='right', va='center', zorder=6)

fig.text(43 / W, 1 - 407 / H, 'Electric Power (kW)', rotation=90, color='white',
         fontsize=25, fontweight='bold', ha='center', va='center')
fig.text(1021 / W, 1 - 927 / H, 'Hub Height 10-minute Average Wind Speed (m/s)',
         color='white', fontsize=28.5, fontweight='bold', ha='center', va='center')

# ---------------- histogram ----------------
hx = fig.add_axes(ax_rect(168, 1858, 993, 1143))
hx.set_facecolor('black')
hx.set_xlim(0, 20)
hx.set_ylim(0, 20)
hx.bar(hist_x, hist_h, width=0.45, color='#ffff00', edgecolor='#c8c800', linewidth=0.6,
       zorder=2)
for side in ['top', 'right']:
    hx.spines[side].set_visible(False)
hx.spines['bottom'].set_color('#8c8c8c')
hx.spines['bottom'].set_linewidth(5)
hx.spines['bottom'].set_zorder(1)
hx.spines['left'].set_color('#666666')
hx.spines['left'].set_linewidth(1.2)
hx.set_xticks(x_ticks)
hx.set_yticks(hist_yticks)
hx.set_yticklabels(['%.1f' % v for v in hist_yticks])
hx.tick_params(length=0, labelsize=26, colors='white')
hx.tick_params(axis='x', pad=28)
hx.tick_params(axis='y', pad=30)

hx.text(0.73, 18.4, 'Total Valid Hours 224 of 180', color='#93cddd', fontsize=24,
        fontweight='bold', ha='left', va='center')
hx.text(18.65, 18.4, 'Hours in 17 m/s bin 0.5', color='#93cddd', fontsize=24.5,
        fontweight='bold', ha='right', va='center')

fig.text(17 / W, 1 - 1054 / H, 'Hours', rotation=90, color='white', fontsize=24,
         fontweight='bold', ha='center', va='center')

fig.savefig('out.png', dpi=100, facecolor='black')
